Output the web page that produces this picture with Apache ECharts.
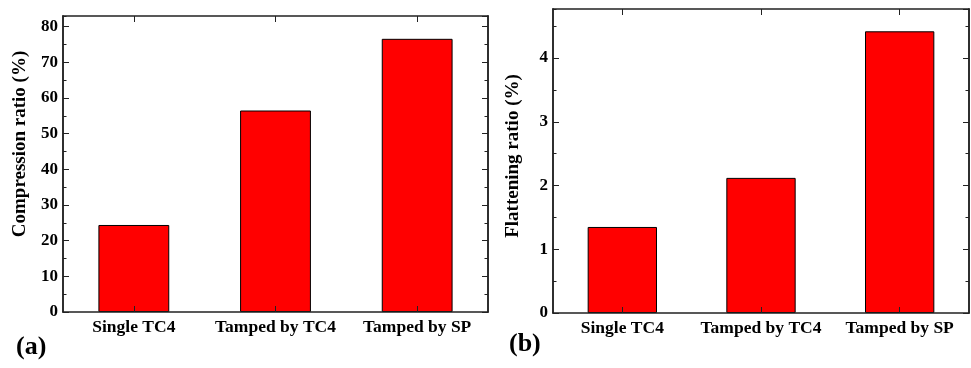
<!DOCTYPE html>
<html>
<head>
<meta charset="utf-8">
<script src="https://cdn.jsdelivr.net/npm/echarts@6/dist/echarts.min.js"></script>
<style>
  html, body { margin: 0; padding: 0; background: #fff; }
  #chart { width: 971px; height: 368px; }
</style>
</head>
<body>
<div id="chart"></div>
<script>
// Sample groups shared by both panels
const categories = ['Single TC4', 'Tamped by TC4', 'Tamped by SP'];
// Panel (a): compression ratio, %
const compressionRatio = [24.4, 56.5, 76.6];
// Panel (b): flattening ratio, %
const flatteningRatio = [1.35, 2.12, 4.42];
// Value-axis ranges and tick spacing
const compressionAxis = { max: 83, major: 10, minor: 5 };
const flatteningAxis = { max: 4.77, major: 1, minor: 0.5 };
// Axis titles and panel tags
const yTitles = ['Compression ratio (%)', 'Flattening ratio (%)'];
const panelTags = ['(a)', '(b)'];

const FONT = '"Liberation Serif", "Times New Roman", serif';
const AXIS_COLOR = '#222';

function catAxes(grid) {
  const base = {
    type: 'category', gridIndex: grid, data: categories, boundaryGap: true, z: 5,
    axisLine: { onZero: false, lineStyle: { color: AXIS_COLOR, width: 1.5 } },
    axisTick: { show: true, inside: true, alignWithLabel: true, length: 6, lineStyle: { color: AXIS_COLOR, width: 1 } },
    splitLine: { show: false }
  };
  return [
    Object.assign({}, base, {
      position: 'bottom',
      axisLabel: { interval: 0, color: '#000', fontFamily: FONT, fontWeight: 'bold', fontSize: 17.5, margin: 6 }
    }),
    Object.assign({}, base, { position: 'top', axisLabel: { show: false } })
  ];
}

function valAxes(grid, cfg) {
  const base = {
    type: 'value', gridIndex: grid, min: 0, max: cfg.max, z: 5,
    axisLine: { show: true, onZero: false, lineStyle: { color: AXIS_COLOR, width: 1.5 } },
    splitLine: { show: false }
  };
  return [
    Object.assign({}, base, {
      position: 'left', interval: cfg.major,
      axisTick: { show: true, inside: true, length: 6, lineStyle: { color: AXIS_COLOR } },
      axisLabel: { color: '#000', fontFamily: FONT, fontWeight: 'bold', fontSize: 17, margin: 5, showMaxLabel: false }
    }),
    Object.assign({}, base, {
      position: 'left', interval: cfg.minor,
      axisTick: { show: true, inside: true, length: 3.5, lineStyle: { color: AXIS_COLOR } },
      axisLabel: { show: false }
    }),
    Object.assign({}, base, {
      position: 'right', interval: cfg.major,
      axisTick: { show: true, inside: true, length: 6, lineStyle: { color: AXIS_COLOR } },
      axisLabel: { show: false }
    }),
    Object.assign({}, base, {
      position: 'right', interval: cfg.minor,
      axisTick: { show: true, inside: true, length: 3.5, lineStyle: { color: AXIS_COLOR } },
      axisLabel: { show: false }
    })
  ];
}

function titleText(text, x, y) {
  return {
    type: 'text', x: x, y: y, rotation: Math.PI / 2,
    style: { text: text, font: 'bold 19px ' + FONT, fill: '#000', align: 'center', verticalAlign: 'middle',
             textAlign: 'center', textVerticalAlign: 'middle' }
  };
}

const barStyle = { color: '#ff0000', borderColor: '#000', borderWidth: 1 };

const option = {
  animation: false,
  backgroundColor: '#fff',
  grid: [
    { left: 63, top: 16, width: 425, height: 296 },
    { left: 553, top: 9, width: 416, height: 304 }
  ],
  xAxis: [...catAxes(0), ...catAxes(1)],
  yAxis: [...valAxes(0, compressionAxis), ...valAxes(1, flatteningAxis)],
  series: [
    { type: 'bar', xAxisIndex: 0, yAxisIndex: 0, data: compressionRatio, barWidth: '50%', itemStyle: barStyle },
    { type: 'bar', xAxisIndex: 2, yAxisIndex: 4, data: flatteningRatio, barWidth: '50%', itemStyle: barStyle }
  ],
  graphic: [
    titleText(yTitles[0], 20, 144),
    titleText(yTitles[1], 513, 156),
    { type: 'text', left: 16, top: 334, style: { text: panelTags[0], font: 'bold 26px ' + FONT, fill: '#000' } },
    { type: 'text', left: 509, top: 331, style: { text: panelTags[1], font: 'bold 26px ' + FONT, fill: '#000' } }
  ]
};

const chart = echarts.init(document.getElementById('chart'), null, { renderer: 'canvas' });
chart.setOption(option);
</script>
</body>
</html>
